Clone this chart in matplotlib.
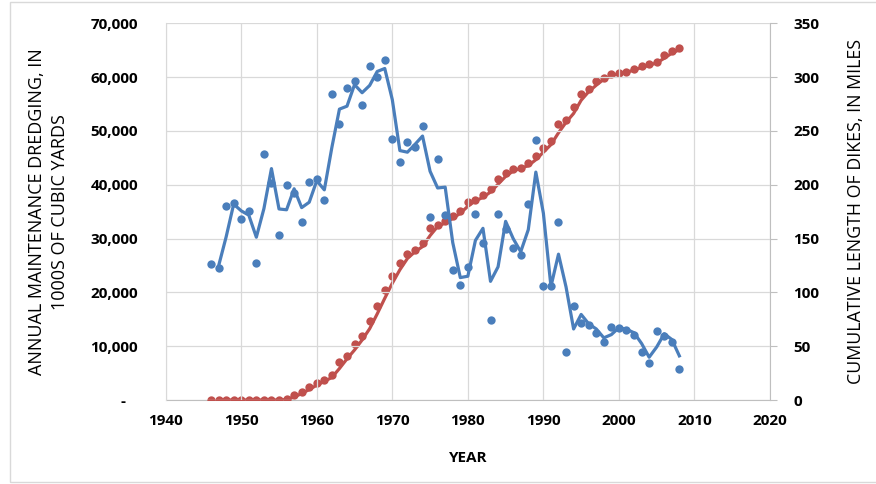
import numpy as np
import pandas as pd
import matplotlib
matplotlib.use('Agg')
import matplotlib.pyplot as plt
from matplotlib.patches import Rectangle
from matplotlib.ticker import FuncFormatter

plt.rcParams['font.family'] = ['Open Sans', 'DejaVu Sans']

#%% Data
years = list(range(1946, 2009))

dredging = [25300, 24500, 36100, 36700, 33600, 35100, 25400, 45700, 40300, 30700,
            40000, 38500, 33000, 40500, 41000, 37100, 56800, 51300, 57900, 59300,
            54900, 62000, 60100, 63100, 48500, 44200, 47900, 47100, 51000, 34000,
            44800, 34300, 24200, 21300, 24700, 34600, 29200, 14900, 34600, 31800,
            28200, 26900, 36400, 48300, 21100, 21100, 33100, 8900, 17500, 14300,
            14000, 12400, 10700, 13600, 13300, 13000, 12000, 9000, 6900, 12800,
            11800, 10700, 5700]

dikes = [0, 0, 0, 0, 0, 0, 0, 0, 0, 0,
         1, 4.5, 7.5, 12, 15.5, 19, 23, 35.5, 41, 52,
         59.5, 73, 87, 102, 115, 127, 136, 139.5, 145.5, 160,
         162.5, 166.5, 171, 176, 184, 186, 190.5, 196, 205, 210.5,
         215, 215.5, 220, 226.5, 234, 240.5, 256, 260, 272.5, 284.5,
         288.5, 296.5, 299.5, 302.5, 304, 305, 308, 310, 312, 314.5,
         320.5, 324, 327]

x_ticks = [1940, 1950, 1960, 1970, 1980, 1990, 2000, 2010, 2020]
left_ticks = [0, 10000, 20000, 30000, 40000, 50000, 60000, 70000]
right_ticks = [0, 50, 100, 150, 200, 250, 300, 350]

blue = '#4a7ebb'
red = '#c0504d'

df = pd.DataFrame({'year': years, 'dredging': dredging, 'dikes': dikes})
# 2-period moving average trendlines (as in the spreadsheet chart)
df['dredging_ma'] = df['dredging'].rolling(2).mean()
df['dikes_ma'] = df['dikes'].rolling(2).mean()

#%% Plot
fig = plt.figure(figsize=(8.76, 4.84), dpi=100)
ax = fig.add_axes([165.7/876, 1-400/484, (770-165.7)/876, (400-23.3)/484])
ax2 = ax.twinx()

ax.plot(df['year'], df['dredging_ma'], c=blue, lw=2.3, zorder=3)
ax.plot(df['year'], df['dredging'], 'o', c=blue, ms=6, mec='none', zorder=4)

ax2.plot(df['year'], df['dikes_ma'], c=red, lw=2.3, zorder=3)
ax2.plot(df['year'], df['dikes'], 'o', c=red, ms=6, mec='none', zorder=4)

ax.set_zorder(ax2.get_zorder() + 1)
ax.patch.set_visible(False)

ax.set_xlim(1940, 2020)
ax.set_ylim(0, 70000)
ax2.set_ylim(0, 350)
ax.set_xticks(x_ticks)
ax.set_yticks(left_ticks)
ax2.set_yticks(right_ticks)

ax.yaxis.set_major_formatter(FuncFormatter(lambda v, p: '-   ' if v == 0 else '{:,.0f}'.format(v)))

ax.grid(True, color='#d9d9d9', lw=0.9)
ax.set_axisbelow(True)

for a in (ax, ax2):
    for s in a.spines.values():
        s.set_visible(False)
ax2.spines['right'].set_visible(True)
ax2.spines['right'].set_color('#bfbfbf')
ax2.spines['bottom'].set_visible(True)
ax2.spines['bottom'].set_color('#bfbfbf')
ax.spines['left'].set_visible(True)
ax.spines['left'].set_color('#d9d9d9')

ax.tick_params(axis='y', length=0, pad=20, labelsize=11)
ax.tick_params(axis='x', length=0, pad=10, labelsize=11)
ax2.tick_params(axis='y', length=5, color='#bfbfbf', pad=12, labelsize=11)
for lab in ax.get_xticklabels() + ax.get_yticklabels() + ax2.get_yticklabels():
    lab.set_fontweight('bold')

ax.set_xlabel('YEAR', fontsize=11, fontweight='bold', labelpad=17)
ax.set_ylabel('ANNUAL MAINTENANCE DREDGING, IN\n1000S OF CUBIC YARDS',
              fontsize=13, labelpad=15, linespacing=1.4)
ax2.set_ylabel('CUMULATIVE LENGTH OF DIKES, IN MILES', fontsize=12.8,
               rotation=90, labelpad=20)

# chart-area border
fig.patches.append(Rectangle((10/876, 2/484), 880/876, 480/484, transform=fig.transFigure,
                             fill=False, ec='#d9d9d9', lw=1))

plt.savefig('out.png', dpi=100)
